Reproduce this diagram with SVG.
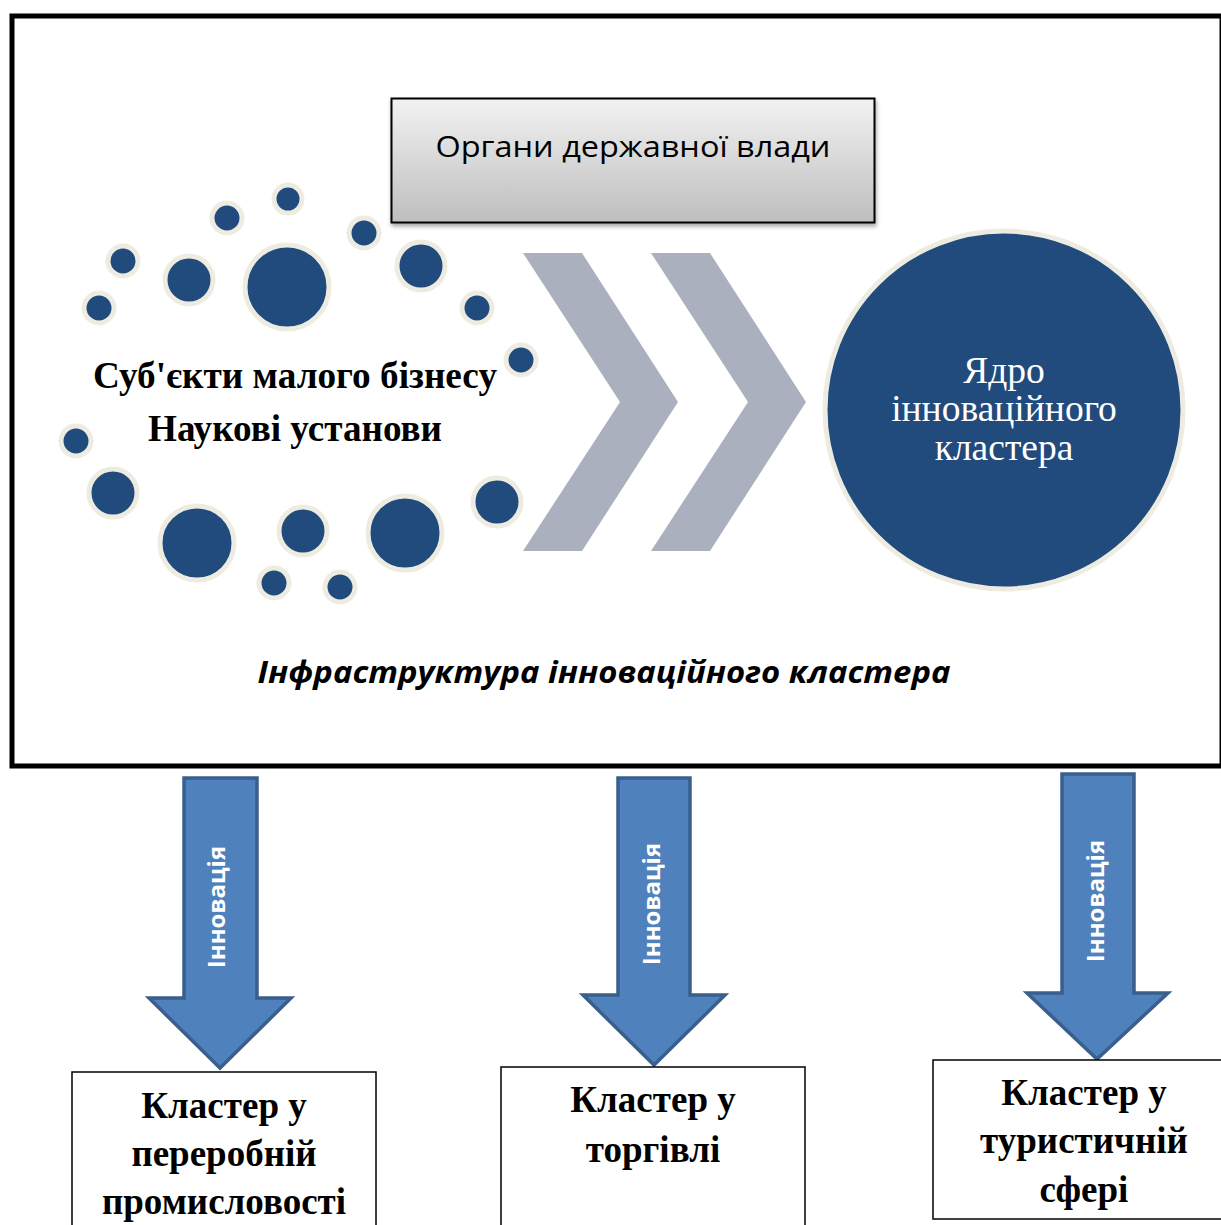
<svg xmlns="http://www.w3.org/2000/svg" width="1221" height="1225" viewBox="0 0 1221 1225">
<style>
.dot{fill:#224B7D;stroke:#EEECE1;stroke-width:5}
.chev{fill:#ABB0BF}
.darr{fill:#4F81BD;stroke:#3A5F8C;stroke-width:3.5;stroke-linejoin:miter}
.arrtxt{font-family:"Open Sans","Liberation Sans",sans-serif;font-weight:bold;font-size:24px;fill:#fff}
.ser{font-family:"Liberation Serif","Times New Roman",serif;font-weight:bold;font-size:37px;fill:#000}
.box{fill:#fff;stroke:#000;stroke-width:1.5}
</style>
<defs>
<linearGradient id="g" x1="0" y1="0" x2="0" y2="1">
<stop offset="0" stop-color="#F2F2F2"/>
<stop offset="1" stop-color="#BEBEBE"/>
</linearGradient>
<filter id="sh" x="-10%" y="-10%" width="120%" height="130%">
<feDropShadow dx="1" dy="3" stdDeviation="2" flood-color="#000" flood-opacity="0.35"/>
</filter>
</defs>
<rect width="1221" height="1225" fill="#fff"/>
<g id="frame">
<rect x="12" y="16" width="1210" height="750" fill="none" stroke="#000" stroke-width="5"/>
</g>
<g id="gov">
<rect x="391.5" y="98.5" width="483" height="124" fill="url(#g)" stroke="#000" stroke-width="2" filter="url(#sh)"/>
<text x="633" y="157" text-anchor="middle" font-family="'Open Sans','Noto Sans',sans-serif" font-size="30" textLength="395" lengthAdjust="spacingAndGlyphs">Органи державної влади</text>
</g>
<g id="subjects">
<circle class="dot" cx="288" cy="199" r="14"/>
<circle class="dot" cx="227" cy="218" r="15"/>
<circle class="dot" cx="123" cy="261" r="15"/>
<circle class="dot" cx="99" cy="308" r="15"/>
<circle class="dot" cx="189" cy="280" r="24"/>
<circle class="dot" cx="287" cy="287" r="42"/>
<circle class="dot" cx="364" cy="233" r="15"/>
<circle class="dot" cx="421" cy="266" r="24"/>
<circle class="dot" cx="477" cy="308" r="15"/>
<circle class="dot" cx="521" cy="360" r="15"/>
<circle class="dot" cx="76" cy="441" r="15"/>
<circle class="dot" cx="113" cy="493" r="24"/>
<circle class="dot" cx="197" cy="543" r="37"/>
<circle class="dot" cx="303" cy="531" r="24"/>
<circle class="dot" cx="405" cy="533" r="37"/>
<circle class="dot" cx="497" cy="502" r="24"/>
<circle class="dot" cx="274" cy="583" r="15"/>
<circle class="dot" cx="340" cy="587" r="15"/>
<text class="ser" x="295" y="388" text-anchor="middle" font-size="34" textLength="404" lengthAdjust="spacingAndGlyphs">Суб'єкти малого бізнесу</text>
<text class="ser" x="295" y="441" text-anchor="middle" font-size="34" textLength="294" lengthAdjust="spacingAndGlyphs">Наукові установи</text>
</g>
<g id="connectors">
<polygon class="chev" points="523,253 582,253 678,402 582,551 523,551 620,402"/>
<polygon class="chev" points="651,253 710,253 806,402 710,551 651,551 748,402"/>
<g id="arrow1">
<polygon class="darr" points="184,778 257,778 257,998 291,998 220,1068 149,998 184,998"/>
<text class="arrtxt" transform="translate(225,907) rotate(-90)" text-anchor="middle">Інновація</text>
</g>
<g id="arrow2">
<polygon class="darr" points="618,778 690,778 690,995 725,995 654,1065 583,995 618,995"/>
<text class="arrtxt" transform="translate(660,904) rotate(-90)" text-anchor="middle">Інновація</text>
</g>
<g id="arrow3">
<polygon class="darr" points="1062,774 1134,774 1134,993 1168,993 1097,1059 1027,993 1062,993"/>
<text class="arrtxt" transform="translate(1104,901) rotate(-90)" text-anchor="middle">Інновація</text>
</g>
</g>
<g id="core">
<circle cx="1004" cy="410" r="179" fill="#224B7D" stroke="#EEECE1" stroke-width="5"/>
<text x="1004" y="383" text-anchor="middle" font-family="'Liberation Serif',serif" font-size="37.5" fill="#fff">Ядро</text>
<text x="1004" y="421" text-anchor="middle" font-family="'Liberation Serif',serif" font-size="37.5" fill="#fff">інноваційного</text>
<text x="1004" y="460" text-anchor="middle" font-family="'Liberation Serif',serif" font-size="37.5" fill="#fff">кластера</text>
</g>
<g id="infra">
<text x="604" y="683" text-anchor="middle" font-family="'Open Sans','Noto Sans',sans-serif" font-style="italic" font-weight="bold" font-size="31" textLength="693" lengthAdjust="spacingAndGlyphs">Інфраструктура інноваційного кластера</text>
</g>
<g id="box1">
<rect class="box" x="72" y="1072" width="304" height="170"/>
<text class="ser" x="224" y="1118" text-anchor="middle">Кластер у</text>
<text class="ser" x="224" y="1166" text-anchor="middle">переробній</text>
<text class="ser" x="224" y="1214" text-anchor="middle">промисловості</text>
</g>
<g id="box2">
<rect class="box" x="501" y="1067" width="304" height="175"/>
<text class="ser" x="653" y="1112" text-anchor="middle">Кластер у</text>
<text class="ser" x="653" y="1162" text-anchor="middle">торгівлі</text>
</g>
<g id="box3">
<rect class="box" x="933" y="1060" width="300" height="159"/>
<text class="ser" x="1084" y="1105" text-anchor="middle">Кластер у</text>
<text class="ser" x="1084" y="1153" text-anchor="middle">туристичній</text>
<text class="ser" x="1084" y="1202" text-anchor="middle">сфері</text>
</g>
</svg>
